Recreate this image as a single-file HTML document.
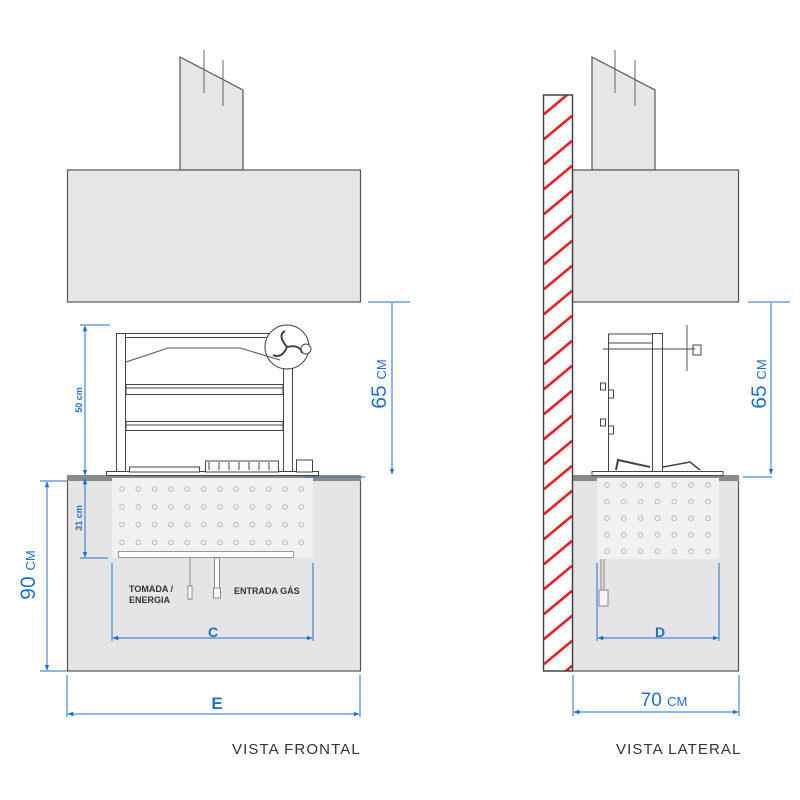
<!DOCTYPE html>
<html><head><meta charset="utf-8"><style>
html,body{margin:0;padding:0;background:#fff}
svg{display:block}
text{font-family:"Liberation Sans","DejaVu Sans",sans-serif}
</style></head><body>
<svg width="800" height="800" viewBox="0 0 800 800" xmlns="http://www.w3.org/2000/svg">
<defs>
<pattern id="dF" patternUnits="userSpaceOnUse" x="114" y="480" width="16.3" height="17.8">
<circle cx="8" cy="9" r="2.3" fill="none" stroke="#aaa" stroke-width="0.8"/></pattern>
<pattern id="dS" patternUnits="userSpaceOnUse" x="599" y="477" width="16.8" height="16.6">
<circle cx="8" cy="8" r="2.3" fill="none" stroke="#aaa" stroke-width="0.8"/></pattern>
<pattern id="hatch" patternUnits="userSpaceOnUse" x="543" y="90" width="30" height="25">
<line x1="0" y1="25" x2="30" y2="0" stroke="#e8202a" stroke-width="2.6"/></pattern>
<marker id="ar" viewBox="0 0 8 8" refX="7" refY="4" markerWidth="6" markerHeight="6" orient="auto-start-reverse"><path d="M0,1 L8,4 L0,7z" fill="#1f6fd0"/></marker>
</defs>

<polygon points="180,57 243,90 243,170 180,170" fill="#e6e6e6" stroke="#555" stroke-width="1.2"/>
<line x1="204" y1="50" x2="204" y2="93" stroke="#666"/>
<line x1="223" y1="60" x2="223" y2="106" stroke="#666"/>
<rect x="67.5" y="170" width="293" height="132" fill="#e6e6e6" stroke="#555" stroke-width="1.2"/>

<rect x="67.5" y="478" width="293" height="193" fill="#e5e5e5" stroke="#555" stroke-width="1.2"/>
<rect x="67" y="475" width="294" height="6" fill="#8a8a8a"/>
<rect x="112" y="478" width="201" height="80" fill="#f1f1f1"/>
<rect x="112" y="478" width="201" height="68" fill="url(#dF)"/>
<rect x="118.5" y="551.5" width="175" height="6" fill="#fff" stroke="#999"/>
<line x1="190" y1="558" x2="190" y2="600" stroke="#888"/>
<rect x="188" y="586" width="4" height="13" fill="#fff" stroke="#888"/>
<rect x="214.5" y="558" width="5" height="30" fill="#fff" stroke="#888"/>
<rect x="213.5" y="588" width="7" height="10" fill="#fff" stroke="#888"/>
<text x="129" y="592" font-size="9" font-weight="bold" fill="#333">TOMADA /</text>
<text x="129" y="603" font-size="9" font-weight="bold" fill="#333">ENERGIA</text>
<text x="234" y="594" font-size="9" font-weight="bold" fill="#333">ENTRADA GÁS</text>

<g fill="#fff" stroke="#444" stroke-width="1">
<rect x="116.5" y="333.5" width="9" height="141"/>
<rect x="283.5" y="345" width="9" height="129"/>
<rect x="125.5" y="333.5" width="170" height="4"/>
<rect x="126" y="384.5" width="157" height="10"/>
<rect x="126" y="421.5" width="157" height="9"/>
<rect x="106.5" y="471.5" width="212" height="4"/>
<rect x="129.5" y="467" width="70" height="5"/>
<rect x="205.5" y="461" width="73" height="11"/>
<rect x="296.5" y="460" width="16" height="12"/>
<circle cx="287" cy="347" r="22"/>
<circle cx="306" cy="349" r="5"/>
</g>
<line x1="126" y1="388" x2="283" y2="388" stroke="#444"/>
<line x1="126" y1="425" x2="283" y2="425" stroke="#444"/>
<polyline points="126,362 168,348 240,348 280,360" fill="none" stroke="#555"/>
<path d="M287,347 q-10,-12 -2,-16 M287,347 q13,-3 15,6 M287,347 q-5,12 -14,8" fill="none" stroke="#444" stroke-width="2"/>
<g stroke="#444"><line x1="209" y1="462" x2="209" y2="470"/><line x1="219" y1="462" x2="219" y2="470"/><line x1="229" y1="462" x2="229" y2="470"/><line x1="239" y1="462" x2="239" y2="470"/><line x1="249" y1="462" x2="249" y2="470"/><line x1="259" y1="462" x2="259" y2="470"/><line x1="269" y1="462" x2="269" y2="470"/></g>

<g stroke="#1f6fd0" stroke-width="1" fill="none">
<line x1="80" y1="325" x2="110" y2="325"/>
<line x1="85" y1="326" x2="85" y2="475" marker-start="url(#ar)" marker-end="url(#ar)"/>
<line x1="80" y1="558" x2="108" y2="558"/>
<line x1="85" y1="479" x2="85" y2="557" marker-start="url(#ar)" marker-end="url(#ar)"/>
<line x1="40" y1="481" x2="67" y2="481"/>
<line x1="40" y1="671" x2="67" y2="671"/>
<line x1="47" y1="482" x2="47" y2="670" marker-start="url(#ar)" marker-end="url(#ar)"/>
<line x1="368" y1="302" x2="410" y2="302"/>
<line x1="305" y1="477" x2="365" y2="477"/>
<line x1="392" y1="303" x2="392" y2="474" marker-end="url(#ar)"/>
<line x1="112" y1="563" x2="112" y2="641"/>
<line x1="313" y1="563" x2="313" y2="641"/>
<line x1="113" y1="638" x2="312" y2="638" marker-start="url(#ar)" marker-end="url(#ar)"/>
<line x1="67" y1="675" x2="67" y2="717"/>
<line x1="360" y1="675" x2="360" y2="717"/>
<line x1="68" y1="714" x2="359" y2="714" marker-start="url(#ar)" marker-end="url(#ar)"/>
</g>
<g fill="#1f6fd0">
<text transform="translate(82,400) rotate(-90)" font-size="9" font-weight="bold" text-anchor="middle">50 cm</text>
<text transform="translate(82,518) rotate(-90)" font-size="9" font-weight="bold" text-anchor="middle">31 cm</text>
<text transform="translate(35,575) rotate(-90)" font-size="21" text-anchor="middle">90 <tspan font-size="13">CM</tspan></text>
<text transform="translate(386,384) rotate(-90)" font-size="21" text-anchor="middle">65 <tspan font-size="13">CM</tspan></text>
<text x="213" y="637" font-size="14" font-weight="bold" text-anchor="middle">C</text>
<text x="217" y="709" font-size="17" font-weight="bold" text-anchor="middle">E</text>
</g>
<text x="232" y="754" font-size="15" fill="#333" letter-spacing="1.1">VISTA FRONTAL</text>

<polygon points="592,57 655,90 655,170 592,170" fill="#e6e6e6" stroke="#555" stroke-width="1.2"/>
<line x1="615" y1="50" x2="615" y2="93" stroke="#666"/>
<line x1="635" y1="60" x2="635" y2="106" stroke="#666"/>
<rect x="572.5" y="170" width="166" height="132" fill="#e6e6e6" stroke="#555" stroke-width="1.2"/>
<rect x="572.5" y="478" width="166" height="193" fill="#e5e5e5" stroke="#555" stroke-width="1.2"/>
<rect x="572" y="475" width="167" height="6" fill="#8a8a8a"/>
<rect x="597" y="478" width="122" height="81" fill="#f1f1f1"/>
<rect x="599" y="477" width="118" height="82" fill="url(#dS)"/>
<line x1="601" y1="559" x2="601" y2="595" stroke="#888"/>
<line x1="604" y1="559" x2="604" y2="595" stroke="#888"/>
<rect x="599" y="590" width="9" height="16" fill="#f5f5f5" stroke="#888"/>
<rect x="543.5" y="95" width="29" height="576" fill="#fff"/>
<rect x="543.5" y="95" width="29" height="576" fill="url(#hatch)" stroke="#444" stroke-width="1.5"/>
<g fill="#fff" stroke="#444" stroke-width="1">
<rect x="592" y="471.5" width="131" height="4"/>
<rect x="652.5" y="333.5" width="10" height="138"/>
<rect x="608.5" y="334" width="44" height="9"/>
<rect x="600.5" y="383" width="5" height="7"/>
<rect x="608.5" y="390" width="5" height="8"/>
<rect x="600.5" y="419" width="5" height="7"/>
<rect x="608.5" y="426" width="5" height="8"/>
<rect x="693" y="345" width="8" height="10"/>
</g>
<line x1="608.5" y1="343" x2="608.5" y2="471" stroke="#444"/>
<line x1="603" y1="349" x2="695" y2="349" stroke="#444"/>
<line x1="687" y1="325" x2="687" y2="371" stroke="#555"/>
<polyline points="616,470 618,460 650,467" fill="none" stroke="#444" stroke-width="2"/>
<polyline points="663,467 690,462 700,470" fill="none" stroke="#444" stroke-width="1.5"/>
<g stroke="#1f6fd0" stroke-width="1" fill="none">
<line x1="748" y1="302" x2="790" y2="302"/>
<line x1="743" y1="477" x2="772" y2="477"/>
<line x1="771" y1="303" x2="771" y2="474" marker-end="url(#ar)"/>
<line x1="597" y1="563" x2="597" y2="641"/>
<line x1="719" y1="563" x2="719" y2="641"/>
<line x1="598" y1="638" x2="718" y2="638" marker-start="url(#ar)" marker-end="url(#ar)"/>
<line x1="573" y1="675" x2="573" y2="716"/>
<line x1="739" y1="675" x2="739" y2="716"/>
<line x1="574" y1="712" x2="738" y2="712" marker-start="url(#ar)" marker-end="url(#ar)"/>
</g>
<g fill="#1f6fd0">
<text transform="translate(766,384) rotate(-90)" font-size="21" text-anchor="middle">65 <tspan font-size="13">CM</tspan></text>
<text x="660" y="637" font-size="14" font-weight="bold" text-anchor="middle">D</text>
<text x="664" y="706" font-size="19" text-anchor="middle">70 <tspan font-size="13">CM</tspan></text>
</g>
<text x="616" y="754" font-size="15" fill="#333" letter-spacing="1.1">VISTA LATERAL</text>
</svg>
</body></html>
